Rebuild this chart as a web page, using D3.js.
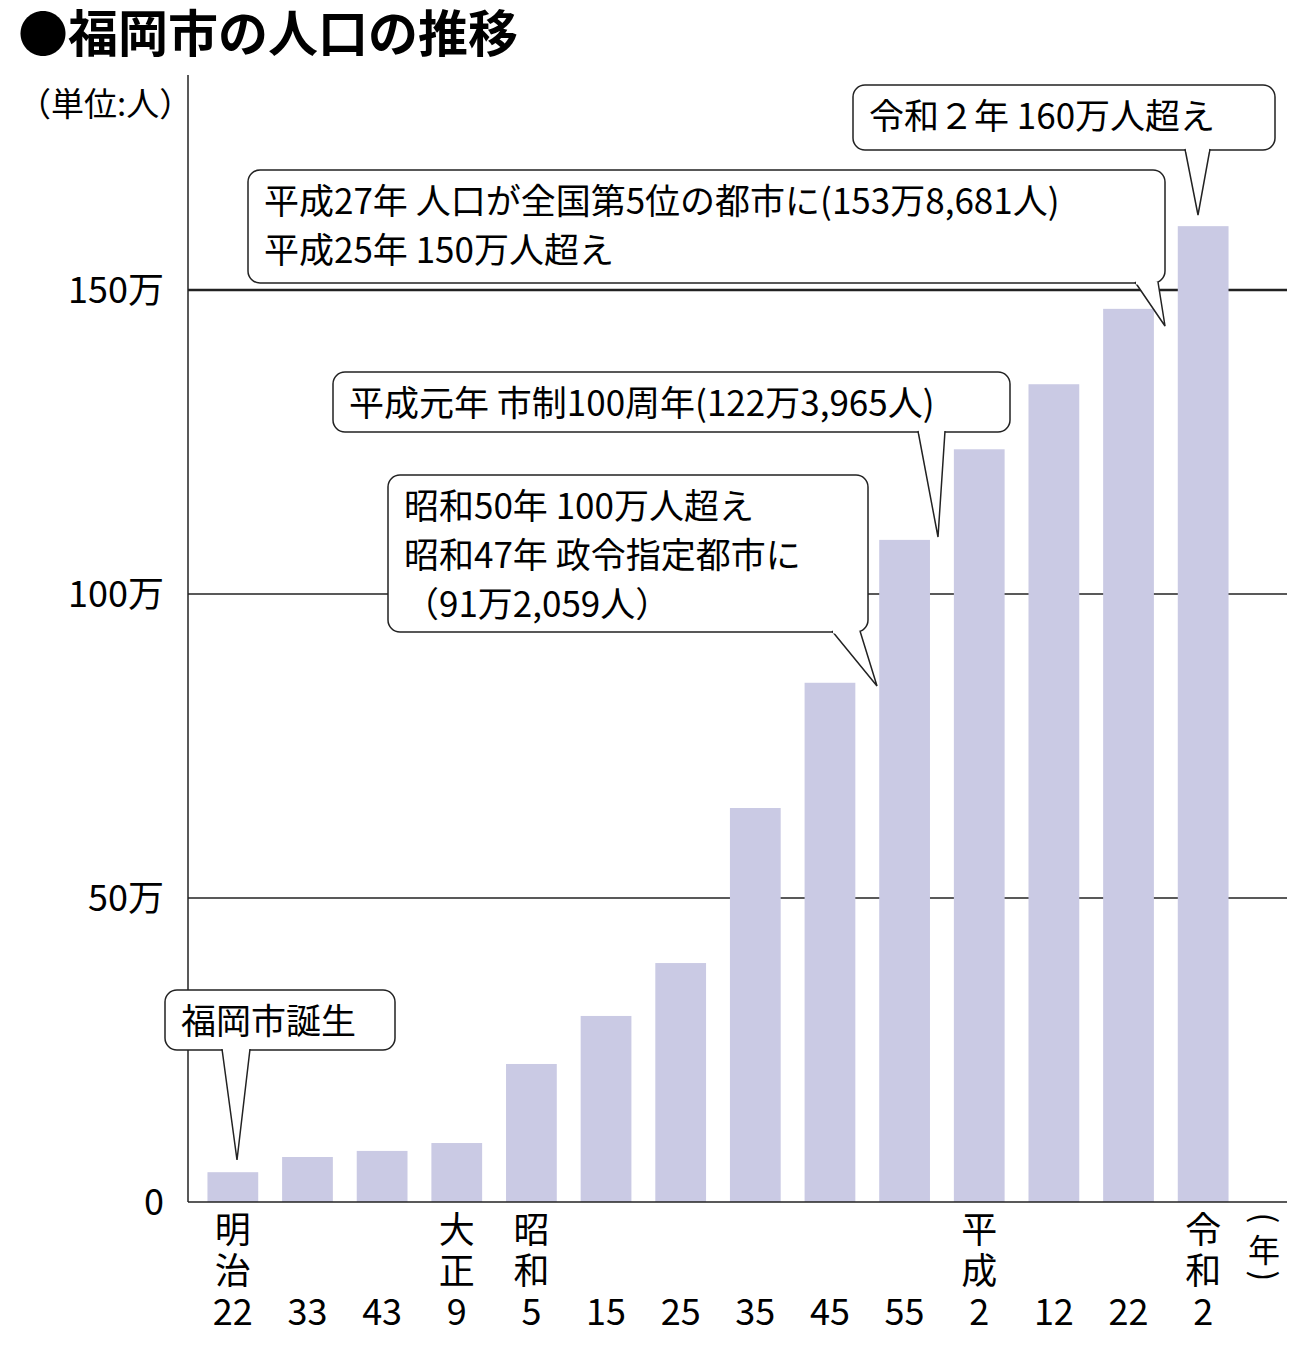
<!DOCTYPE html>
<html><head><meta charset="utf-8">
<script src="https://cdn.jsdelivr.net/npm/d3@7"></script>
<style>body{margin:0;background:#fff}text{font-family:"Noto Sans CJK JP","Noto Sans",sans-serif}</style>
</head><body><svg id="c" width="1300" height="1354"></svg>
<script>
const eraLabels = [["明","治","22"],["33"],["43"],["大","正","9"],["昭","和","5"],["15"],["25"],["35"],["45"],["55"],["平","成","2"],["12"],["22"],["令","和","2"]];
const categories = ["M22","M33","M43","T9","S5","S15","S25","S35","S45","S55","H2","H12","H22","R2"];
const values = [4.9,7.4,8.4,9.7,22.7,30.6,39.3,64.8,85.4,108.9,123.8,134.5,146.9,160.5]; // 万人
const yTicks = [0,50,100,150];
const tickLabels = ["0","50万","100万","150万"];
const callouts = [
 {lines:["福岡市誕生"], box:[165,990,395,1050], tail:[222,250], tip:[237,1160]},
 {lines:["昭和50年 100万人超え","昭和47年 政令指定都市に","（91万2,059人）"], box:[388,475,868,632], tail:[832,860], tip:[877,686]},
 {lines:["平成元年 市制100周年(122万3,965人)"], box:[333,372,1010,432], tail:[918,945], tip:[938,537]},
 {lines:["平成27年 人口が全国第5位の都市に(153万8,681人)","平成25年 150万人超え"], box:[248,170,1165,283], tail:[1135,1158], tip:[1165,326]},
 {lines:["令和２年 160万人超え"], box:[853,85,1275,150], tail:[1185,1210], tip:[1198,215]}
];
const svg = d3.select("#c");
const x = d3.scaleBand().domain(categories).range([200,1236]).paddingInner(0.32).paddingOuter(0.1);
const y = d3.scaleLinear().domain([0,150]).range([1202,290]);
svg.append("text").attr("x",18).attr("y",52).attr("font-size",50).attr("font-weight","bold").text("●福岡市の人口の推移");
svg.append("text").attr("x",18).attr("y",116).attr("font-size",33).text("（単位:人）");
yTicks.forEach((t,i)=>{
  if(t>0) svg.append("line").attr("x1",188).attr("x2",1287).attr("y1",y(t)).attr("y2",y(t)).attr("stroke","#222").attr("stroke-width",t===150?2.5:1.3);
  svg.append("text").attr("x",164).attr("y",y(t)+13).attr("text-anchor","end").attr("font-size",36).text(tickLabels[i]);
});
svg.selectAll("rect.bar").data(values).join("rect").attr("class","bar")
 .attr("x",(d,i)=>x(categories[i])).attr("width",x.bandwidth())
 .attr("y",d=>y(d)).attr("height",d=>y(0)-y(d)).attr("fill","#cacae4");
svg.append("line").attr("x1",188).attr("x2",188).attr("y1",75).attr("y2",1202).attr("stroke","#222").attr("stroke-width",1.5);
svg.append("line").attr("x1",188).attr("x2",1287).attr("y1",1202).attr("y2",1202).attr("stroke","#222").attr("stroke-width",1.5);
eraLabels.forEach((ls,i)=>{
  const cx = x(categories[i])+x.bandwidth()/2;
  ls.forEach((s,j)=>{
    const yy = 1325 - (ls.length-1-j)*41;
    svg.append("text").attr("x",cx).attr("y",yy).attr("text-anchor","middle").attr("font-size",36).text(s);
  });
});
svg.append("text").attr("x",1264).attr("y",1218).attr("text-anchor","middle").attr("font-size",32).attr("transform","rotate(90,1264,1218)").attr("dy","0.35em").text("(");
svg.append("text").attr("x",1264).attr("y",1262).attr("text-anchor","middle").attr("font-size",32).text("年");
svg.append("text").attr("x",1264).attr("y",1276).attr("text-anchor","middle").attr("font-size",32).attr("transform","rotate(90,1264,1276)").attr("dy","0.35em").text(")");
callouts.forEach(c=>{
  const [x0,y0,x1,y1]=c.box;
  svg.append("rect").attr("x",x0).attr("y",y0).attr("width",x1-x0).attr("height",y1-y0).attr("rx",12)
   .attr("fill","#fff").attr("stroke","#222").attr("stroke-width",1.5);
  svg.append("path").attr("d",`M${c.tail[0]},${y1-1}L${c.tip[0]},${c.tip[1]}L${c.tail[1]},${y1-1}`)
   .attr("fill","#fff").attr("stroke","#222").attr("stroke-width",1.5);
  svg.append("line").attr("x1",c.tail[0]+1).attr("x2",c.tail[1]-1).attr("y1",y1).attr("y2",y1).attr("stroke","#fff").attr("stroke-width",3);
  c.lines.forEach((l,k)=>{
    svg.append("text").attr("x",x0+16).attr("y",y0+44+k*49).attr("font-size",35).attr("textLength",null).text(l);
  });
});
</script></body></html>
